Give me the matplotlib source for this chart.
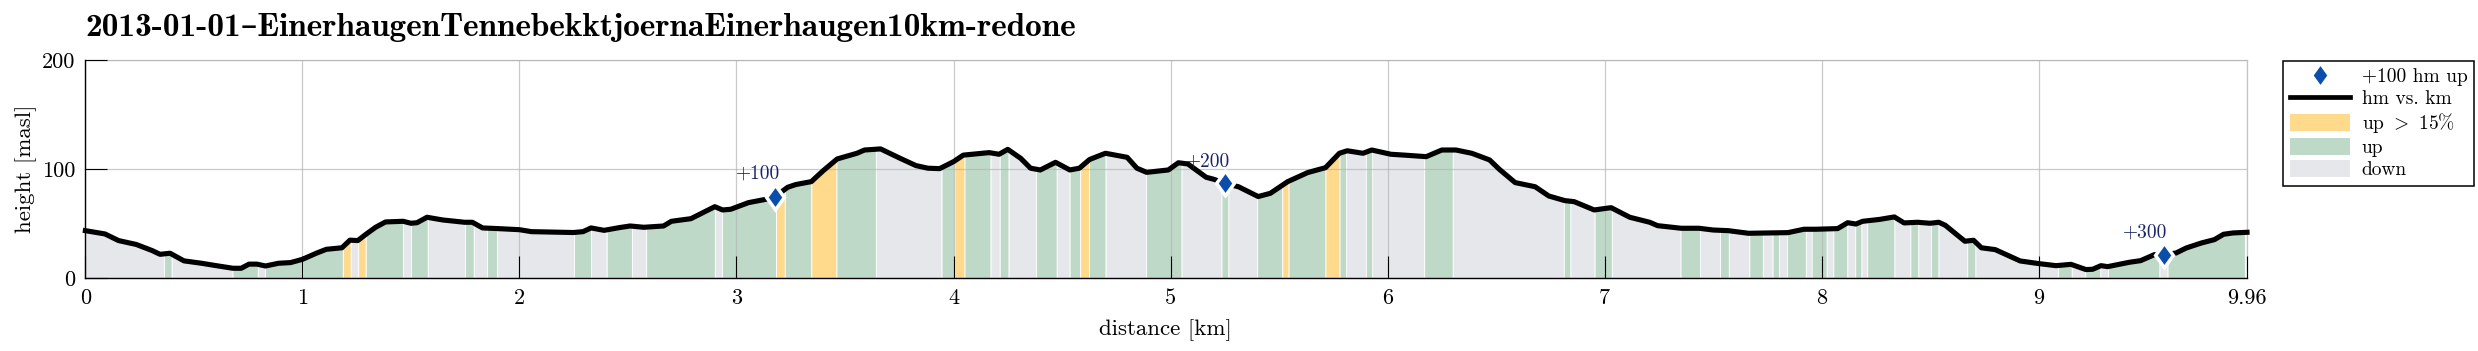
import numpy as np
import matplotlib
matplotlib.use("Agg")
import matplotlib.pyplot as plt
from matplotlib.lines import Line2D
from matplotlib.patches import Patch

plt.rcParams['mathtext.fontset'] = 'cm'
plt.rcParams['font.family'] = ['cmr10', 'DejaVu Sans']

TITLE = "2013-01-01\u2013EinerhaugenTennebekktjoernaEinerhaugen10km-redone"
km = [0,.09,.153,.235,.308,.344,.39,.454,.535,.59,.68,.718,.754,.79,.83,.89,.945,1.0,1.064,1.11,1.182,1.219,1.255,1.29,1.337,1.383,1.464,1.5,1.528,1.574,1.647,1.747,1.783,1.83,1.90,2.0,2.055,2.248,2.293,2.33,2.39,2.46,2.51,2.573,2.664,2.70,2.79,2.845,2.90,2.936,2.973,3.055,3.136,3.178,3.236,3.273,3.345,3.40,3.464,3.555,3.59,3.664,3.755,3.827,3.882,3.936,4.0,4.045,4.164,4.21,4.25,4.31,4.355,4.40,4.47,4.536,4.58,4.627,4.70,4.80,4.845,4.89,4.99,5.036,5.08,5.164,5.2,5.251,5.313,5.404,5.46,5.54,5.632,5.714,5.778,5.814,5.887,5.927,6.015,6.078,6.178,6.25,6.315,6.388,6.47,6.515,6.588,6.68,6.743,6.816,6.86,6.952,7.03,7.116,7.208,7.244,7.353,7.435,7.5,7.57,7.663,7.845,7.918,7.974,8.074,8.12,8.158,8.189,8.266,8.335,8.38,8.442,8.50,8.54,8.57,8.66,8.70,8.736,8.80,8.915,9.0,9.08,9.149,9.218,9.249,9.287,9.318,9.418,9.47,9.533,9.578,9.633,9.68,9.75,9.81,9.852,9.895,9.96]
hm = [43.7,40.7,34.6,31,25.4,22,23,16,13.8,12,9.2,9.2,13,13,11.3,13.8,14.4,17.4,23,26.6,28,35,34.6,40,46.8,51.7,52.3,50.5,51,56,53.5,51.4,51.4,46.2,45.6,44.6,42.8,42,42.8,46.2,44,46.5,48,46.8,48,52.3,54.7,60.2,65.7,62.7,63.3,69.4,72.5,75,83.5,86,88.7,98.8,109.5,114.7,117.7,118.7,110,103.4,101,100.6,107,113,115.3,113.8,118.3,110,101,99.4,106.4,99.4,101,109,114.7,111,101,97.2,99.4,106,104.9,92.7,90.8,87,84,75,78,88.7,97,101.5,114.7,117,114.7,117.7,113.8,113,111.6,117.7,117.7,114.7,108.6,100,87.8,84,75.5,71.3,70.3,62.7,64.8,56,51.4,48.3,45.9,45.9,44.3,43.7,41.3,41.9,45,45,45.6,51,49.8,52.3,54,56.3,50.8,51.4,50.5,51.4,48.6,34,34.9,28,26.3,15.9,13.5,11.6,12.8,8,8.3,11.6,10.7,14.7,16.2,21.7,21.7,23.2,27.8,32.4,35.5,40.4,41.6,42.2]

up_start = [.362,.678,.827,1.0,1.291,1.5,1.749,1.851,2.251,2.402,2.584,2.933,3.222,3.46,3.945,4.05,4.213,4.38,4.535,4.624,4.887,5.235,5.399,5.543,5.778,5.9,6.169,6.812,6.954,7.35,7.532,7.667,7.774,7.84,7.954,8.054,8.155,8.21,8.409,8.504,8.671,9.09,9.215,9.32,9.594]
up_end   = [.397,.794,.996,1.186,1.463,1.577,1.789,1.896,2.33,2.518,2.9,3.182,3.345,3.642,4.005,4.17,4.253,4.475,4.584,4.7,5.05,5.266,5.515,5.714,5.809,5.929,6.3,6.842,7.033,7.44,7.572,7.729,7.803,7.927,8.023,8.118,8.183,8.335,8.445,8.538,8.708,9.152,9.284,9.556,9.95]
steep_start = [1.186,1.257,3.182,3.345,4.005,4.584,5.515,5.714]
steep_end   = [1.222,1.291,3.222,3.46,4.05,4.624,5.543,5.778]
marker_km = [3.178,5.251,9.578]
marker_hm = [75,87,21.7]
marker_labels = ["+100","+200","+300"]
x_ticks = [0,1,2,3,4,5,6,7,8,9,9.96]
x_tick_labels = ["0","1","2","3","4","5","6","7","8","9","9.96"]
y_ticks = [0,100,200]
legend_labels = ["+100 hm up","hm vs. km",r"up $>$ 15%","up","down"]

C_UP, C_STEEP, C_DOWN, C_MARK, C_TXT = '#BFD9C8', '#FFD98C', '#E6E7EB', '#0B4DAB', '#1A2566'
W, H = 2478, 351
fig = plt.figure(figsize=(W/100, H/100), dpi=100)
L, R, T, B = 85.4, 2247, 60.3, 278.3
ax = fig.add_axes([L/W, 1-B/H, (R-L)/W, (B-T)/H])

km_a, hm_a = np.array(km), np.array(hm)
DIAMOND = [(0, 1), (0.72, 0), (0, -1), (-0.72, 0), (0, 1)]

def band(a, b, color):
    xs = np.r_[a, km_a[(km_a > a) & (km_a < b)], b]
    ax.fill_between(xs, 0, np.interp(xs, km_a, hm_a), facecolor=color,
                    edgecolor='white', linewidth=0.6, zorder=1)

ups = sorted(list(zip(up_start, up_end)) + list(zip(steep_start, steep_end)))
pos = 0.0
for a, b in ups:
    if a - pos > 0.004:
        band(pos, a, C_DOWN)
    pos = max(pos, b)
for a, b in zip(up_start, up_end):
    band(a, b, C_UP)
for a, b in zip(steep_start, steep_end):
    band(a, b, C_STEEP)

ax.grid(True, color='#B4B4B4', alpha=0.7, linewidth=0.9, zorder=2)
ax.set_axisbelow(False)
ax.plot(km, hm, color='black', lw=3.7, zorder=3, solid_joinstyle='round', clip_on=False)
ax.plot(marker_km, marker_hm, ls='none', marker=DIAMOND, ms=22, mfc='white', mec='white', mew=0, zorder=4)
ax.plot(marker_km, marker_hm, ls='none', marker=DIAMOND, ms=13.5, mfc=C_MARK, mec=C_MARK, mew=0, zorder=4.5)
offsets = [(4, 13), (4, 12), (2.5, 12)]
for x, y, s, o in zip(marker_km, marker_hm, marker_labels, offsets):
    ax.annotate(s, (x, y), xytext=o, textcoords='offset points', ha='right', va='baseline',
                fontsize=14, color=C_TXT, zorder=5)

ax.set_xlim(0, 9.96)
ax.set_ylim(0, 200)
ax.set_xticks(x_ticks, x_tick_labels)
ax.set_yticks(y_ticks, [str(v) for v in y_ticks])
ax.tick_params(axis='both', direction='in', length=16, width=0.8, labelsize=16, color='black', pad=7)
for s in ('top', 'right'):
    ax.spines[s].set_color('#C4C4C4')
    ax.spines[s].set_linewidth(0.9)
for s in ('left', 'bottom'):
    ax.spines[s].set_color('black')
    ax.spines[s].set_linewidth(1.0)
    ax.spines[s].set_zorder(6)

fig.text(1165/W, 1-335/H, "distance [km]", ha='center', va='baseline', fontsize=16.5)
fig.text(26/W, 1-169/H, "height [masl]", ha='center', va='center', rotation=90, fontsize=16.5)
fig.text(L/W, 1-36/H, TITLE, family=['cmb10', 'DejaVu Sans'], ha='left', va='baseline', fontsize=24)

handles = [Line2D([], [], ls='none', marker=DIAMOND, ms=13.5, mfc=C_MARK, mec=C_MARK, mew=0),
           Line2D([], [], color='black', lw=3.4),
           Patch(facecolor=C_STEEP), Patch(facecolor=C_UP), Patch(facecolor=C_DOWN)]
leg = fig.legend(handles, legend_labels, loc='upper left', bbox_to_anchor=(2283/W, 1-60.7/H),
                 borderaxespad=0, fontsize=14, handlelength=3.1, handleheight=0.93, handletextpad=0.6,
                 labelspacing=0.15, borderpad=0.35, fancybox=False, framealpha=1, edgecolor='black')
leg.get_frame().set_linewidth(1.1)
fig.savefig('out.png', dpi=100)
